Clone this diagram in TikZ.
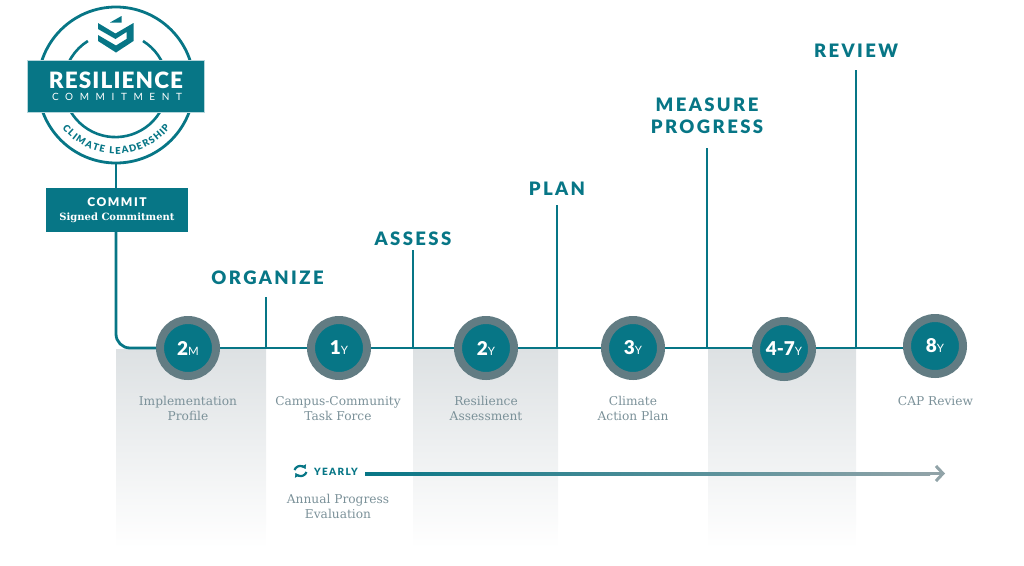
\documentclass[tikz,border=0pt]{standalone}
\usepackage{fontspec}
\setmainfont{DejaVu Serif}
\newfontfamily\headfont[LetterSpace=13,BoldFont={Lato Black}]{Lato}
\newfontfamily\numfont[BoldFont={Lato Black}]{Lato}
\usetikzlibrary{arrows.meta}
\definecolor{teal}{HTML}{077686}
\definecolor{slate}{HTML}{627C83}
\definecolor{labelgrey}{HTML}{7B9199}
\definecolor{shadetop}{HTML}{DDE1E3}
\tikzset{>=latex}
\tikzset{
  timeline/.style={draw=teal,line width=2.8pt},
  phase/.style={font=\headfont\bfseries\fontsize{18.5}{20.5}\selectfont,text=teal,align=center,inner sep=0pt},
  stepdot/.style={circle,fill=teal,draw=slate,line width=8pt,minimum size=56pt,inner sep=0pt,
    text=white,font=\numfont\bfseries\fontsize{19}{19}\selectfont},
  steplabel/.style={font=\fontsize{12.2}{15}\selectfont,text=labelgrey,align=center,inner sep=0pt,anchor=north},
  band/.style={top color=shadetop,bottom color=white,draw=none},
  arcletter/.style={text=teal,font=\numfont\bfseries\fontsize{9.5}{10}\selectfont,inner sep=0pt,anchor=base},
}
\newcommand{\unitmark}[1]{{\fontsize{11.5}{11.5}\selectfont\mdseries #1}}

\begin{document}
\begin{tikzpicture}[x=1pt,y=-1pt]
  \useasboundingbox (0,0) rectangle (1024,565);
  % shaded columns
  \shade[band] (116,349) rectangle (266,548);
  \shade[band] (413,349) rectangle (558,548);
  \shade[band] (708,349) rectangle (856,548);

  % badge
  \node[circle,draw=teal,line width=2.8pt,minimum size=156pt,inner sep=0pt] (badge) at (116,85) {};
  \draw[teal,line width=2.6pt] (143,41) arc (-58:238:52);
  \fill[teal] (110,22.5) -- (121.5,16) -- (121.5,22.5) -- cycle;
  \fill[teal] (98,23) -- (115.5,33.5) -- (133.5,23) -- (133.5,41) -- (116,52.5) -- (98,41) -- (98,35) -- (116,45.5) -- (126.5,39) -- (126.5,32) -- (115.5,39) -- (98,29) -- cycle;
  \node[fill=teal,draw=white!70!teal,line width=.5pt,minimum width=177pt,minimum height=52pt,inner sep=0pt] (banner) at (116,86) {};
  \node[text=white,font=\numfont\bfseries\fontsize{22.5}{23}\selectfont,inner sep=0pt] (resilience) at (116,80) {\addfontfeature{LetterSpace=5}RESILIENCE};
  \node[text=white,font=\numfont\fontsize{10}{10}\selectfont,inner sep=0pt] (commitment) at (117,96.7) {\addfontfeature{LetterSpace=66}COMMITMENT};
  \foreach \ch/\ang [count=\i] in {C/-48.8,L/-42.8,I/-38.4,M/-32.2,A/-24.3,T/-17.8,E/-12.2,
      L/-3.7,E/1.7,A/7.9,D/14.8,E/21,R/27,S/32.9,H/39.3,I/44.8,P/49}
    \node[arcletter,rotate=\ang] (arc\i) at ({116+69*sin(\ang)},{85+69*cos(\ang)}) {\ch};

  % commit box
  \node[fill=teal,minimum width=142pt,minimum height=44pt,inner sep=0pt,align=center,text=white] (commit) at (117,210)
    {{\headfont\bfseries\fontsize{12}{14}\selectfont COMMIT}\\[2.5pt]{\bfseries\fontsize{10}{13}\selectfont Signed Commitment}};
  \draw[timeline] (badge.south) -- (commit.north -| 116,0);

  % steps along the line
  \node[stepdot] (s1) at (188,348) {2\unitmark{M}};
  \node[stepdot] (s2) at (339,348) {1\unitmark{Y}};
  \node[stepdot] (s3) at (486,348) {2\unitmark{Y}};
  \node[stepdot] (s4) at (633,348) {3\unitmark{Y}};
  \node[stepdot] (s5) at (784,349) {4-7\unitmark{Y}};
  \node[stepdot] (s6) at (935,346) {8\unitmark{Y}};
  \draw[timeline,rounded corners=14pt] (commit.south -| 116,0) |- (s1.west);
  \draw[timeline] (s1) -- (s2);
  \draw[timeline] (s2) -- (s3);
  \draw[timeline] (s3) -- (s4);
  \draw[timeline] (s4.east) -- (s5.west |- s4.east);
  \draw[timeline] (s5.east |- s4.east) -- (s6.west |- s4.east);
  \node[steplabel] (l1) at (188,396) {Implementation\\Profile};
  \node[steplabel] (l2) at (338,396) {Campus-Community\\Task Force};
  \node[steplabel] (l3) at (486,396) {Resilience\\Assessment};
  \node[steplabel] (l4) at (633,396) {Climate\\Action Plan};
  \node[steplabel] (l6) at (935.5,396) {CAP Review};

  % phases
  \node[phase] (organize) at (267.5,278) {ORGANIZE};
  \node[phase] (assess) at (413,239) {ASSESS};
  \node[phase] (plan) at (557,188.5) {PLAN};
  \node[phase] (measure) at (707,116) {MEASURE\\[2pt]PROGRESS};
  \node[phase] (review) at (856,50.5) {REVIEW};
  \coordinate (o1) at (266,297);
  \coordinate (a1) at (413,250);
  \coordinate (p1) at (557,205);
  \coordinate (m1) at (707,148);
  \coordinate (r1) at (856,70);
  \draw[timeline] (o1) -- (266,349);
  \draw[timeline] (a1) -- (413,349);
  \draw[timeline] (p1) -- (557,349);
  \draw[timeline] (m1) -- (707,349);
  \draw[timeline] (r1) -- (856,349);

  % yearly arrow
  \node[anchor=west,inner sep=0pt,text=teal,font=\headfont\bfseries\fontsize{10}{10}\selectfont] (yearly) at (314,472) {YEARLY};
  \draw[teal,line width=2.2pt,-{Latex[length=4pt,width=6pt]}] (294.5,470) arc (200:330:6.2);
  \draw[teal,line width=2.2pt,-{Latex[length=4pt,width=6pt]}] (306.5,472) arc (20:150:6.2);
  \coordinate (yend) at (945,473.5);
  \draw[-{Straight Barb[length=7pt,width=15pt,line width=3pt]},draw=slate!70!white,line width=3pt] (365,473.5) -- (yend);
  \shade[left color=teal,right color=slate!70!white] (365,472) rectangle (930,475);
  \node[steplabel] (annual) at (338,494) {Annual Progress\\Evaluation};
\end{tikzpicture}
\end{document}
